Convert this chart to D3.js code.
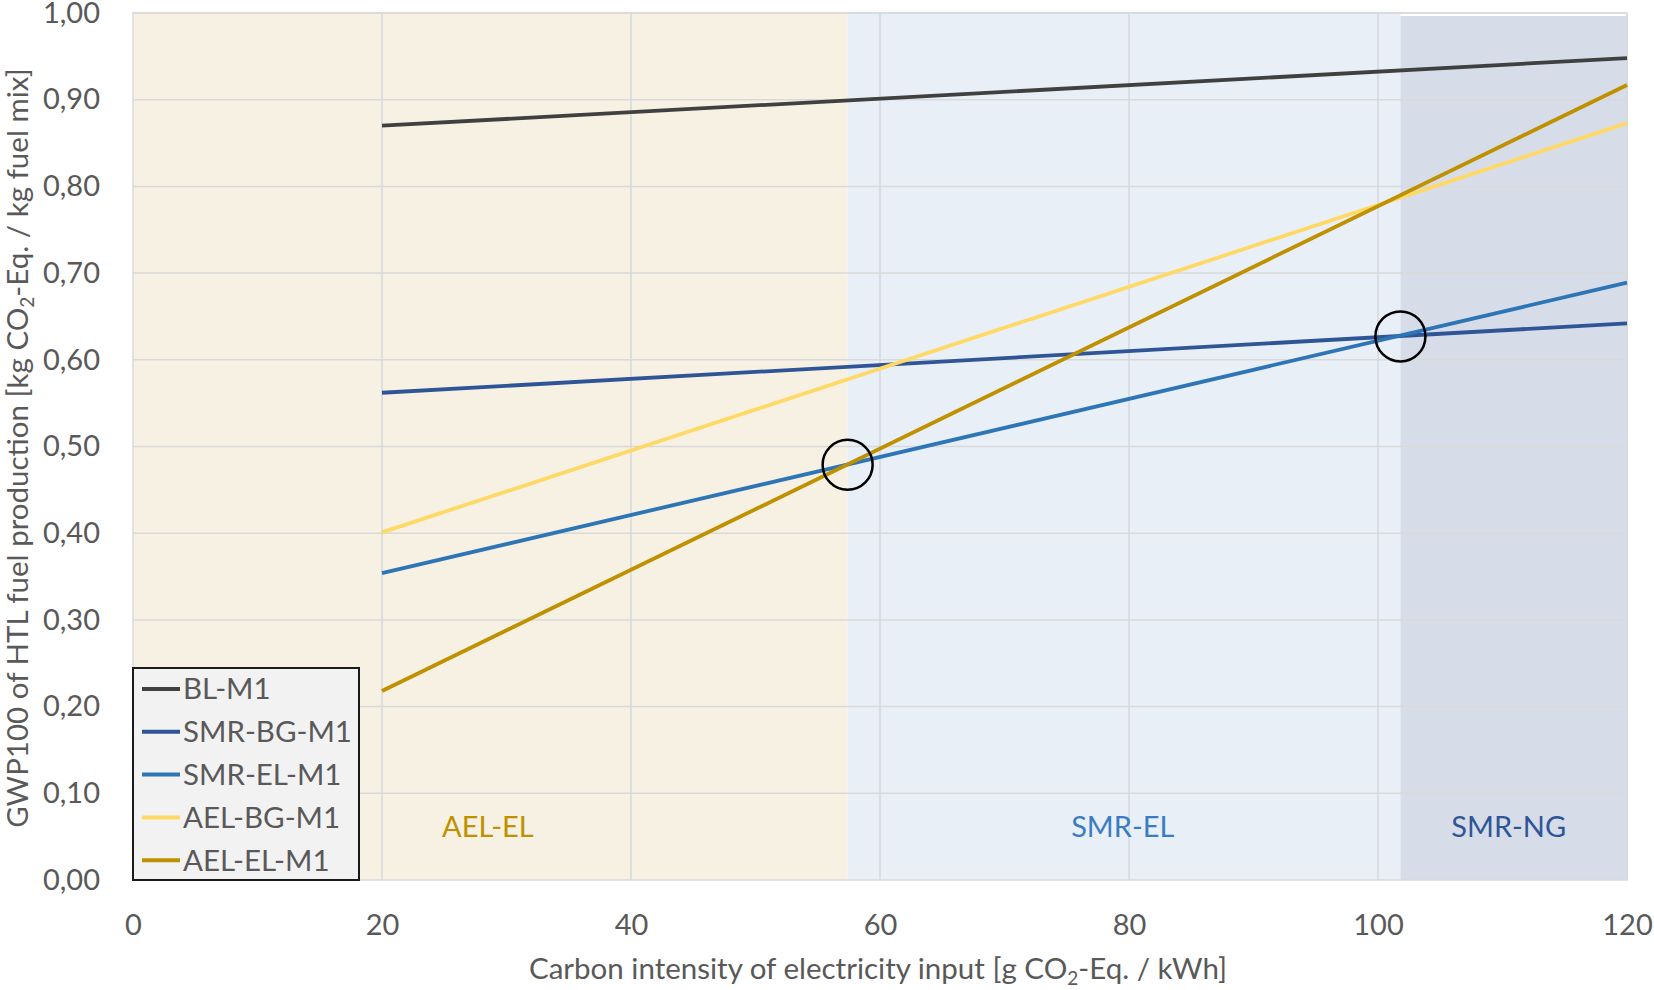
<!DOCTYPE html>
<html><head><meta charset="utf-8">
<script src="https://cdn.jsdelivr.net/npm/d3@7"></script>
<style>body{margin:0;background:#fff}svg{display:block}text{font-family:Lato,"Open Sans",sans-serif}</style>
</head><body><svg id="c" width="1654" height="990"></svg>
<script>
const xValues = [20, 120];
const seriesNames = ["BL-M1", "SMR-BG-M1", "SMR-EL-M1", "AEL-BG-M1", "AEL-EL-M1"];
const blM1 = [0.870, 0.948];
const smrBgM1 = [0.562, 0.642];
const smrElM1 = [0.354, 0.689];
const aelBgM1 = [0.401, 0.873];
const aelElM1 = [0.218, 0.917];
const seriesColors = ["#404040", "#2f5597", "#2e75b6", "#ffd966", "#bf9000"];
const xTicks = [0, 20, 40, 60, 80, 100, 120];
const yTicks = [0, 0.1, 0.2, 0.3, 0.4, 0.5, 0.6, 0.7, 0.8, 0.9, 1.0];
const regionNames = ["AEL-EL", "SMR-EL", "SMR-NG"];
const regionBounds = [[0, 57.4], [57.4, 101.8], [101.8, 120]];
const regionFills = ["#f6f1e3", "#e9eff7", "#d6dde9"];
const regionTextColors = ["#bf9000", "#3a7cc4", "#2f5597"];
const regionLabelX = [28.5, 79.5, 110.5];
const circlePoints = [[57.4, 0.479], [101.8, 0.627]];

const seriesValues = [blM1, smrBgM1, smrElM1, aelBgM1, aelElM1];
const svg = d3.select("#c");
const m = {l:133, r:1627, t:13, b:880};
const x = d3.scaleLinear().domain([0,120]).range([m.l, m.r]);
const y = d3.scaleLinear().domain([0,1]).range([m.b, m.t]);
const fmt = v => d3.format(".2f")(v).replace(".", ",");

// regions
svg.append("g").selectAll("rect").data(regionBounds).join("rect")
  .attr("x", d => x(d[0])).attr("width", d => x(d[1]) - x(d[0]))
  .attr("y", (d,i) => i === 2 ? y(1) + 3 : y(1)).attr("height", (d,i) => i === 2 ? y(0) - y(1) - 3 : y(0) - y(1))
  .attr("fill", (d,i) => regionFills[i]);

// gridlines
svg.append("g").selectAll("line").data(yTicks.slice(1)).join("line")
  .attr("x1", m.l).attr("x2", m.r).attr("y1", d => y(d)).attr("y2", d => y(d))
  .attr("stroke", "#d9d9d9").attr("stroke-width", 1.5);
svg.append("g").selectAll("line").data(xTicks.slice(1)).join("line")
  .attr("y1", m.t).attr("y2", m.b).attr("x1", d => x(d)).attr("x2", d => x(d))
  .attr("stroke", "#d4d7dc").attr("stroke-width", 1.5);
svg.append("rect").attr("x", m.l).attr("y", m.t).attr("width", m.r - m.l).attr("height", m.b - m.t)
  .attr("fill", "none").attr("stroke", "#d9d9d9").attr("stroke-width", 1.5);

// axes
const yAxis = svg.append("g").attr("transform", `translate(${m.l},0)`)
  .call(d3.axisLeft(y).tickValues(yTicks).tickFormat(fmt).tickSize(0).tickPadding(33));
const xAxis = svg.append("g").attr("transform", `translate(0,${m.b})`)
  .call(d3.axisBottom(x).tickValues(xTicks).tickFormat(d3.format("d")).tickSize(0).tickPadding(34));
[yAxis, xAxis].forEach(a => {
  a.select(".domain").remove();
  a.selectAll("text").attr("font-family", "Lato").attr("font-size", 29).attr("fill", "#595959");
});

// region labels
svg.append("g").selectAll("text").data(regionNames).join("text")
  .attr("x", (d,i) => x(regionLabelX[i])).attr("y", y(0.05))
  .attr("text-anchor", "middle").attr("font-size", 29)
  .attr("fill", (d,i) => regionTextColors[i]).text(d => d);

// lines
const line = d3.line().x((d,i) => x(xValues[i])).y(d => y(d));
svg.append("g").selectAll("path").data(seriesValues).join("path")
  .attr("d", d => line(d)).attr("fill", "none")
  .attr("stroke", (d,i) => seriesColors[i]).attr("stroke-width", 3.8);

// circles
svg.append("g").selectAll("circle").data(circlePoints).join("circle")
  .attr("cx", d => x(d[0])).attr("cy", d => y(d[1])).attr("r", 25)
  .attr("fill", "none").attr("stroke", "#000").attr("stroke-width", 2.5);

// legend
const lg = svg.append("g");
lg.append("rect").attr("x", 133).attr("y", 668).attr("width", 226).attr("height", 212)
  .attr("fill", "#f2f2f2").attr("stroke", "#1a1a1a").attr("stroke-width", 2);
seriesNames.forEach((n, i) => {
  const yy = 689 + i * 42.8;
  lg.append("line").attr("x1", 142).attr("x2", 180).attr("y1", yy).attr("y2", yy)
    .attr("stroke", seriesColors[i]).attr("stroke-width", 4);
  lg.append("text").attr("x", 183).attr("y", yy).attr("dy", "0.35em")
    .attr("font-size", 29.5).attr("fill", "#595959").text(n);
});

// axis titles
const xt = svg.append("text").attr("x", 878).attr("y", 979).attr("text-anchor", "middle")
  .attr("font-size", 29.5).attr("fill", "#595959");
xt.append("tspan").text("Carbon intensity of electricity input [g CO");
xt.append("tspan").attr("font-size", 19).attr("dy", 6).text("2");
xt.append("tspan").attr("dy", -6).text("-Eq. / kWh]");

const yt = svg.append("text").attr("transform", "translate(28,448) rotate(-90)").attr("text-anchor", "middle")
  .attr("font-size", 29.5).attr("fill", "#595959");
yt.append("tspan").text("GWP100 of HTL fuel production [kg CO");
yt.append("tspan").attr("font-size", 19).attr("dy", 6).text("2");
yt.append("tspan").attr("dy", -6).text("-Eq. / kg fuel mix]");
</script></body></html>
